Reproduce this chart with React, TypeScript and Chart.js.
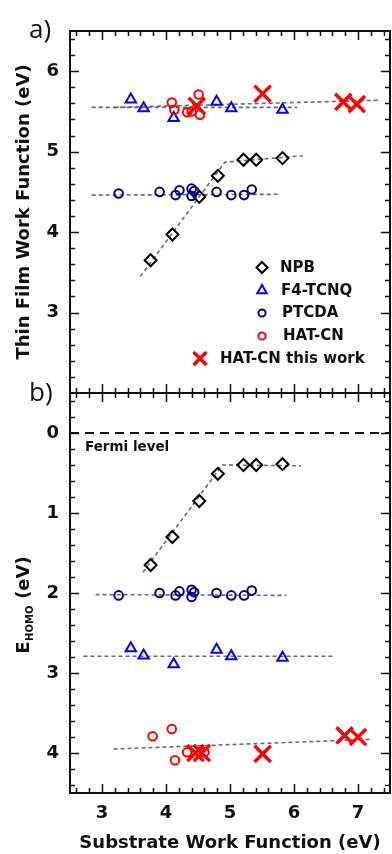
import React, { useEffect, useRef } from 'react';
import { Chart, registerables } from 'chart.js';

Chart.register(...registerables);

const FONT = "'DejaVu Sans', 'Liberation Sans', sans-serif";

// ---- x: substrate work function (eV) ----
const X_MIN = 2.5;
const X_MAX = 7.5;
const X_TICKS = [3, 4, 5, 6, 7];

// ---- panel a: thin film work function (eV) ----
const WF_MIN = 2;
const WF_MAX = 6.5;
const WF_TICKS = [3, 4, 5, 6];

// ---- panel b: HOMO energy below the Fermi level (eV) ----
const HOMO_MIN = -0.5;
const HOMO_MAX = 4.5;
const HOMO_TICKS = [0, 1, 2, 3, 4];

// NPB
const NPB_X = [3.76, 4.10, 4.52, 4.81, 5.21, 5.41, 5.82];
const NPB_WF = [3.65, 3.97, 4.44, 4.70, 4.90, 4.90, 4.92];
const NPB_HOMO = [1.65, 1.30, 0.85, 0.51, 0.40, 0.40, 0.39];

// F4-TCNQ
const F4_X = [3.45, 3.65, 4.12, 4.79, 5.02, 5.82];
const F4_WF = [5.65, 5.54, 5.42, 5.62, 5.54, 5.52];
const F4_HOMO = [2.69, 2.78, 2.89, 2.71, 2.79, 2.81];

// PTCDA
const PTCDA_X = [3.26, 3.90, 4.15, 4.21, 4.40, 4.40, 4.44, 4.79, 5.02, 5.22, 5.34];
const PTCDA_WF = [4.48, 4.50, 4.46, 4.52, 4.54, 4.45, 4.51, 4.50, 4.46, 4.46, 4.53];
const PTCDA_HOMO = [2.03, 2.00, 2.03, 1.98, 1.96, 2.05, 1.99, 2.00, 2.03, 2.03, 1.97];

// HAT-CN (literature)
const HAT_WF_X = [4.09, 4.13, 4.33, 4.40, 4.51, 4.53];
const HAT_WF = [5.61, 5.52, 5.49, 5.50, 5.71, 5.46];
const HAT_HOMO_X = [3.79, 4.09, 4.14, 4.33, 4.60];
const HAT_HOMO = [3.79, 3.70, 4.09, 3.99, 3.99];

// HAT-CN this work
const HATW_WF_X = [4.48, 5.51, 6.77, 6.98];
const HATW_WF = [5.57, 5.72, 5.62, 5.59];
const HATW_HOMO_X = [4.46, 4.56, 5.51, 6.79, 7.00];
const HATW_HOMO = [4.00, 4.00, 4.01, 3.78, 3.80];

// guide lines (panel a)
const NPB_FIT_WF_X = [3.60, 4.92, 6.14];
const NPB_FIT_WF = [3.45, 4.87, 4.95];
const PTCDA_FIT_WF_X = [2.84, 5.75];
const PTCDA_FIT_WF = [4.46, 4.47];
const F4_FIT_WF_X = [2.84, 6.05];
const F4_FIT_WF = [5.55, 5.55];
const HAT_FIT_WF_X = [3.20, 7.35];
const HAT_FIT_WF = [5.55, 5.64];

// guide lines (panel b)
const NPB_FIT_HOMO_X = [3.64, 4.88, 6.11];
const NPB_FIT_HOMO = [1.74, 0.40, 0.41];
const PTCDA_FIT_HOMO_X = [2.90, 5.88];
const PTCDA_FIT_HOMO = [2.02, 2.03];
const F4_FIT_HOMO_X = [2.71, 6.63];
const F4_FIT_HOMO = [2.79, 2.79];
const HAT_FIT_HOMO_X = [3.18, 7.18];
const HAT_FIT_HOMO = [3.95, 3.83];
const FERMI_X = [X_MIN, X_MAX];
const FERMI_Y = [0, 0];

const pts = (xs: number[], ys: number[]) => xs.map((x, i) => ({ x, y: ys[i] }));

const BLACK = '#000000';
const BLUE = '#0000ff';
const NAVY = '#00008b';
const RED = '#ff0000';
const GUIDE = '#6a6a6a';
const NONE = 'rgba(0,0,0,0)';

function markerSet(label: string, data: any[], style: string, radius: number, color: string, width: number) {
  return {
    label,
    data,
    showLine: false,
    pointStyle: style,
    pointRadius: radius,
    pointHoverRadius: radius,
    pointBorderColor: color,
    pointBackgroundColor: NONE,
    pointBorderWidth: width,
    borderColor: color,
    backgroundColor: NONE,
    borderWidth: width,
    order: 1,
  };
}

function guide(label: string, data: any[], color = GUIDE, width = 1.6, dash = [4, 3]) {
  return {
    label,
    data,
    showLine: true,
    pointRadius: 0,
    pointHoverRadius: 0,
    borderColor: color,
    backgroundColor: NONE,
    borderWidth: width,
    borderDash: dash,
    fill: false,
    order: 5,
  };
}

type Marker = 'diamond' | 'triangle' | 'circle' | 'cross';

function drawMarker(ctx: CanvasRenderingContext2D, kind: Marker, x: number, y: number, r: number, color: string, lw: number) {
  ctx.save();
  ctx.setLineDash([]);
  ctx.strokeStyle = color;
  ctx.lineWidth = lw;
  ctx.beginPath();
  if (kind === 'diamond') {
    ctx.moveTo(x, y - r);
    ctx.lineTo(x + r, y);
    ctx.lineTo(x, y + r);
    ctx.lineTo(x - r, y);
    ctx.closePath();
  } else if (kind === 'triangle') {
    for (let k = 0; k < 3; k++) {
      const ang = (k * 2 * Math.PI) / 3;
      const px = x + Math.sin(ang) * r;
      const py = y - Math.cos(ang) * r;
      if (k === 0) ctx.moveTo(px, py);
      else ctx.lineTo(px, py);
    }
    ctx.closePath();
  } else if (kind === 'circle') {
    ctx.arc(x, y, r, 0, Math.PI * 2);
  } else {
    ctx.moveTo(x - r, y - r);
    ctx.lineTo(x + r, y + r);
    ctx.moveTo(x + r, y - r);
    ctx.lineTo(x - r, y + r);
  }
  ctx.stroke();
  ctx.restore();
}

const LEGEND: { text: string; kind: Marker; color: string; r: number; lw: number; mx: number; tx: number; dy: number }[] = [
  { text: 'NPB', kind: 'diamond', color: BLACK, r: 5.5, lw: 2, mx: 192, tx: 210, dy: 0 },
  { text: 'F4-TCNQ', kind: 'triangle', color: BLUE, r: 5.5, lw: 2, mx: 192, tx: 211, dy: 23 },
  { text: 'PTCDA', kind: 'circle', color: NAVY, r: 3.6, lw: 2, mx: 192, tx: 212, dy: 45.5 },
  { text: 'HAT-CN', kind: 'circle', color: RED, r: 3.6, lw: 2, mx: 192, tx: 213, dy: 68.5 },
  { text: 'HAT-CN this work', kind: 'cross', color: RED, r: 6.5, lw: 3.5, mx: 130, tx: 150, dy: 91 },
];

interface FrameOpts {
  panel: string;
  panelY: number;
  legend?: boolean;
  titleY: number;
  subscriptTitle?: boolean;
  title: string;
  fermi?: boolean;
}

const STEP = 0.2;

// tick values every STEP inside [lo, hi]
function minorValues(lo: number, hi: number) {
  const out: number[] = [];
  for (let k = Math.ceil(lo / STEP - 1e-6); k <= Math.floor(hi / STEP + 1e-6); k++) out.push(k * STEP);
  return out;
}

function makeFrame(o: FrameOpts) {
  return {
    id: 'frame',
    afterDraw(chart: any) {
      const { ctx, chartArea: a, scales } = chart;
      const ys = scales.y;
      ctx.save();
      ctx.setLineDash([]);
      ctx.globalAlpha = 1;
      ctx.strokeStyle = '#111';
      ctx.lineWidth = 1.5;

      // inward ticks on left and right
      for (const v of minorValues(ys.min, ys.max)) {
        const major = Math.abs(v - Math.round(v)) < 1e-6;
        const len = major ? 9 : 5;
        const py = Math.round(ys.getPixelForValue(v)) + 0.5;
        ctx.beginPath();
        ctx.moveTo(a.left, py);
        ctx.lineTo(a.left + len, py);
        ctx.moveTo(a.right, py);
        ctx.lineTo(a.right - len, py);
        ctx.stroke();
      }

      // inward ticks on top and bottom
      const left = a.left;
      const span = a.right - a.left;
      for (const v of minorValues(X_MIN, X_MAX)) {
        const major = Math.abs(v - Math.round(v)) < 1e-6;
        const len = major ? 9 : 5;
        const xs = scales.x;
        let px = xs.getPixelForValue(v);
        if (!Number.isFinite(px)) px = left + ((v - X_MIN) / (X_MAX - X_MIN)) * span;
        px = Math.round(px) + 0.5;
        ctx.beginPath();
        ctx.moveTo(px, a.top);
        ctx.lineTo(px, a.top + len);
        ctx.moveTo(px, a.bottom);
        ctx.lineTo(px, a.bottom - len);
        ctx.stroke();
      }

      // axis frame
      ctx.lineWidth = 2;
      ctx.strokeRect(a.left, a.top, a.right - a.left, a.bottom - a.top);

      // panel letter
      ctx.fillStyle = '#111';
      ctx.font = `26px 'Open Sans', 'DejaVu Sans', sans-serif`;
      ctx.textAlign = 'left';
      ctx.textBaseline = 'middle';
      ctx.fillText(o.panel, 29, o.panelY);

      // rotated y title
      ctx.save();
      ctx.translate(22, o.titleY);
      ctx.rotate(-Math.PI / 2);
      ctx.textBaseline = 'alphabetic';
      ctx.textAlign = 'left';
      const big = `bold 18px ${FONT}`;
      if (o.subscriptTitle) {
        const small = `bold 10px ${FONT}`;
        ctx.font = big;
        const wE = ctx.measureText('E').width;
        const wRest = ctx.measureText(' (eV)').width;
        ctx.font = small;
        const wSub = ctx.measureText('HOMO').width + 1;
        const start = -(wE + wSub + wRest) / 2;
        ctx.font = big;
        ctx.fillText('E', start, 6.5);
        ctx.font = small;
        ctx.fillText('HOMO', start + wE + 0.5, 11);
        ctx.font = big;
        ctx.fillText(' (eV)', start + wE + wSub, 6.5);
      } else {
        ctx.font = big;
        ctx.textAlign = 'center';
        ctx.fillText(o.title, 0, 6.5);
      }
      ctx.restore();

      // Fermi level caption under the dashed line
      if (o.fermi) {
        ctx.font = `bold 13.5px ${FONT}`;
        ctx.textAlign = 'left';
        ctx.textBaseline = 'middle';
        ctx.fillStyle = '#111';
        ctx.fillText('Fermi level', a.left + 15, ys.getPixelForValue(0) + 14);
      }

      // legend in the lower right of panel a
      if (o.legend) {
        const baseY = ys.getPixelForValue(3.56);
        ctx.font = `bold 15px ${FONT}`;
        ctx.textAlign = 'left';
        ctx.textBaseline = 'middle';
        for (const it of LEGEND) {
          const y = baseY + it.dy;
          drawMarker(ctx, it.kind, a.left + it.mx, y, it.r, it.color, it.lw);
          ctx.fillStyle = '#111';
          ctx.fillText(it.text, a.left + it.tx, y + 0.5);
        }
      }
      ctx.restore();
    },
  };
}

const tickFont = { family: FONT, size: 18, weight: 'bold' as const };

// fixed scale boxes so both panels share the same plot frame
const fitY = (s: any) => {
  s.width = 70;
  s.paddingTop = 0;
  s.paddingBottom = 0;
  s.paddingLeft = 0;
  s.paddingRight = 0;
};
const fitX = (s: any) => {
  s.height = 61;
  s.paddingTop = 0;
  s.paddingBottom = 0;
  s.paddingLeft = 0;
  s.paddingRight = 0;
};

function topConfig(): any {
  return {
    type: 'scatter',
    data: {
      datasets: [
        markerSet('HAT-CN this work', pts(HATW_WF_X, HATW_WF), 'crossRot', 11.5, RED, 3.5),
        markerSet('HAT-CN', pts(HAT_WF_X, HAT_WF), 'circle', 4.3, RED, 2),
        markerSet('PTCDA', pts(PTCDA_X, PTCDA_WF), 'circle', 4.3, NAVY, 2),
        markerSet('F4-TCNQ', pts(F4_X, F4_WF), 'triangle', 6, BLUE, 2),
        markerSet('NPB', pts(NPB_X, NPB_WF), 'rectRot', 6, BLACK, 2),
        guide('NPB fit', pts(NPB_FIT_WF_X, NPB_FIT_WF)),
        guide('PTCDA fit', pts(PTCDA_FIT_WF_X, PTCDA_FIT_WF)),
        guide('F4-TCNQ fit', pts(F4_FIT_WF_X, F4_FIT_WF)),
        guide('HAT-CN fit', pts(HAT_FIT_WF_X, HAT_FIT_WF)),
      ],
    },
    options: {
      responsive: false,
      maintainAspectRatio: false,
      animation: false,
      events: [],
      layout: { autoPadding: false, padding: { top: 31, right: 2, bottom: 1, left: 0 } },
      plugins: { legend: { display: false }, tooltip: { enabled: false } },
      scales: {
        x: { type: 'linear', min: X_MIN, max: X_MAX, display: false },
        y: {
          type: 'linear',
          min: WF_MIN,
          max: WF_MAX,
          afterFit: fitY,
          afterBuildTicks: (s: any) => { s.ticks = WF_TICKS.map((v) => ({ value: v })); },
          grid: { display: false, drawTicks: false },
          border: { display: false },
          ticks: { font: tickFont, color: '#111', padding: 11 },
        },
      },
    },
    plugins: [
      makeFrame({ panel: 'a)', panelY: 31, legend: true, titleY: 212, title: 'Thin Film Work Function (eV)' }),
    ],
  };
}

function bottomConfig(): any {
  return {
    type: 'scatter',
    data: {
      datasets: [
        markerSet('HAT-CN this work', pts(HATW_HOMO_X, HATW_HOMO), 'crossRot', 11.5, RED, 3.5),
        markerSet('HAT-CN', pts(HAT_HOMO_X, HAT_HOMO), 'circle', 4.3, RED, 2),
        markerSet('PTCDA', pts(PTCDA_X, PTCDA_HOMO), 'circle', 4.3, NAVY, 2),
        markerSet('F4-TCNQ', pts(F4_X, F4_HOMO), 'triangle', 6, BLUE, 2),
        markerSet('NPB', pts(NPB_X, NPB_HOMO), 'rectRot', 6, BLACK, 2),
        guide('NPB fit', pts(NPB_FIT_HOMO_X, NPB_FIT_HOMO)),
        guide('PTCDA fit', pts(PTCDA_FIT_HOMO_X, PTCDA_FIT_HOMO)),
        guide('F4-TCNQ fit', pts(F4_FIT_HOMO_X, F4_FIT_HOMO)),
        guide('HAT-CN fit', pts(HAT_FIT_HOMO_X, HAT_FIT_HOMO)),
        guide('Fermi level', pts(FERMI_X, FERMI_Y), '#111', 2, [9, 6]),
      ],
    },
    options: {
      responsive: false,
      maintainAspectRatio: false,
      animation: false,
      events: [],
      layout: { autoPadding: false, padding: { top: 41, right: 2, bottom: 0, left: 0 } },
      plugins: { legend: { display: false }, tooltip: { enabled: false } },
      scales: {
        x: {
          type: 'linear',
          min: X_MIN,
          max: X_MAX,
          afterFit: fitX,
          afterBuildTicks: (s: any) => { s.ticks = X_TICKS.map((v) => ({ value: v })); },
          grid: { display: false, drawTicks: false },
          border: { display: false },
          ticks: { font: tickFont, color: '#111', padding: 10, maxRotation: 0 },
          title: {
            display: true,
            text: 'Substrate Work Function (eV)',
            font: { family: FONT, size: 18, weight: 'bold' },
            color: '#111',
            padding: { top: 0, bottom: 0 },
          },
        },
        y: {
          type: 'linear',
          min: HOMO_MIN,
          max: HOMO_MAX,
          reverse: true,
          afterFit: fitY,
          afterBuildTicks: (s: any) => { s.ticks = HOMO_TICKS.map((v) => ({ value: v })); },
          grid: { display: false, drawTicks: false },
          border: { display: false },
          ticks: { font: tickFont, color: '#111', padding: 11 },
        },
      },
    },
    plugins: [
      makeFrame({ panel: 'b)', panelY: 42, titleY: 253, subscriptTitle: true, title: 'E HOMO (eV)', fermi: true }),
    ],
  };
}

export default function App() {
  const topRef = useRef<HTMLCanvasElement>(null);
  const botRef = useRef<HTMLCanvasElement>(null);

  useEffect(() => {
    const top = new Chart(topRef.current as HTMLCanvasElement, topConfig());
    const bottom = new Chart(botRef.current as HTMLCanvasElement, bottomConfig());
    return () => {
      top.destroy();
      bottom.destroy();
    };
  }, []);

  return (
    <div style={{ position: 'absolute', left: 0, top: 0, width: 392, height: 854, background: '#fff', overflow: 'hidden' }}>
      <canvas ref={topRef} width={392} height={394} style={{ position: 'absolute', left: 0, top: 0 }} />
      <canvas ref={botRef} width={392} height={502} style={{ position: 'absolute', left: 0, top: 352 }} />
    </div>
  );
}
